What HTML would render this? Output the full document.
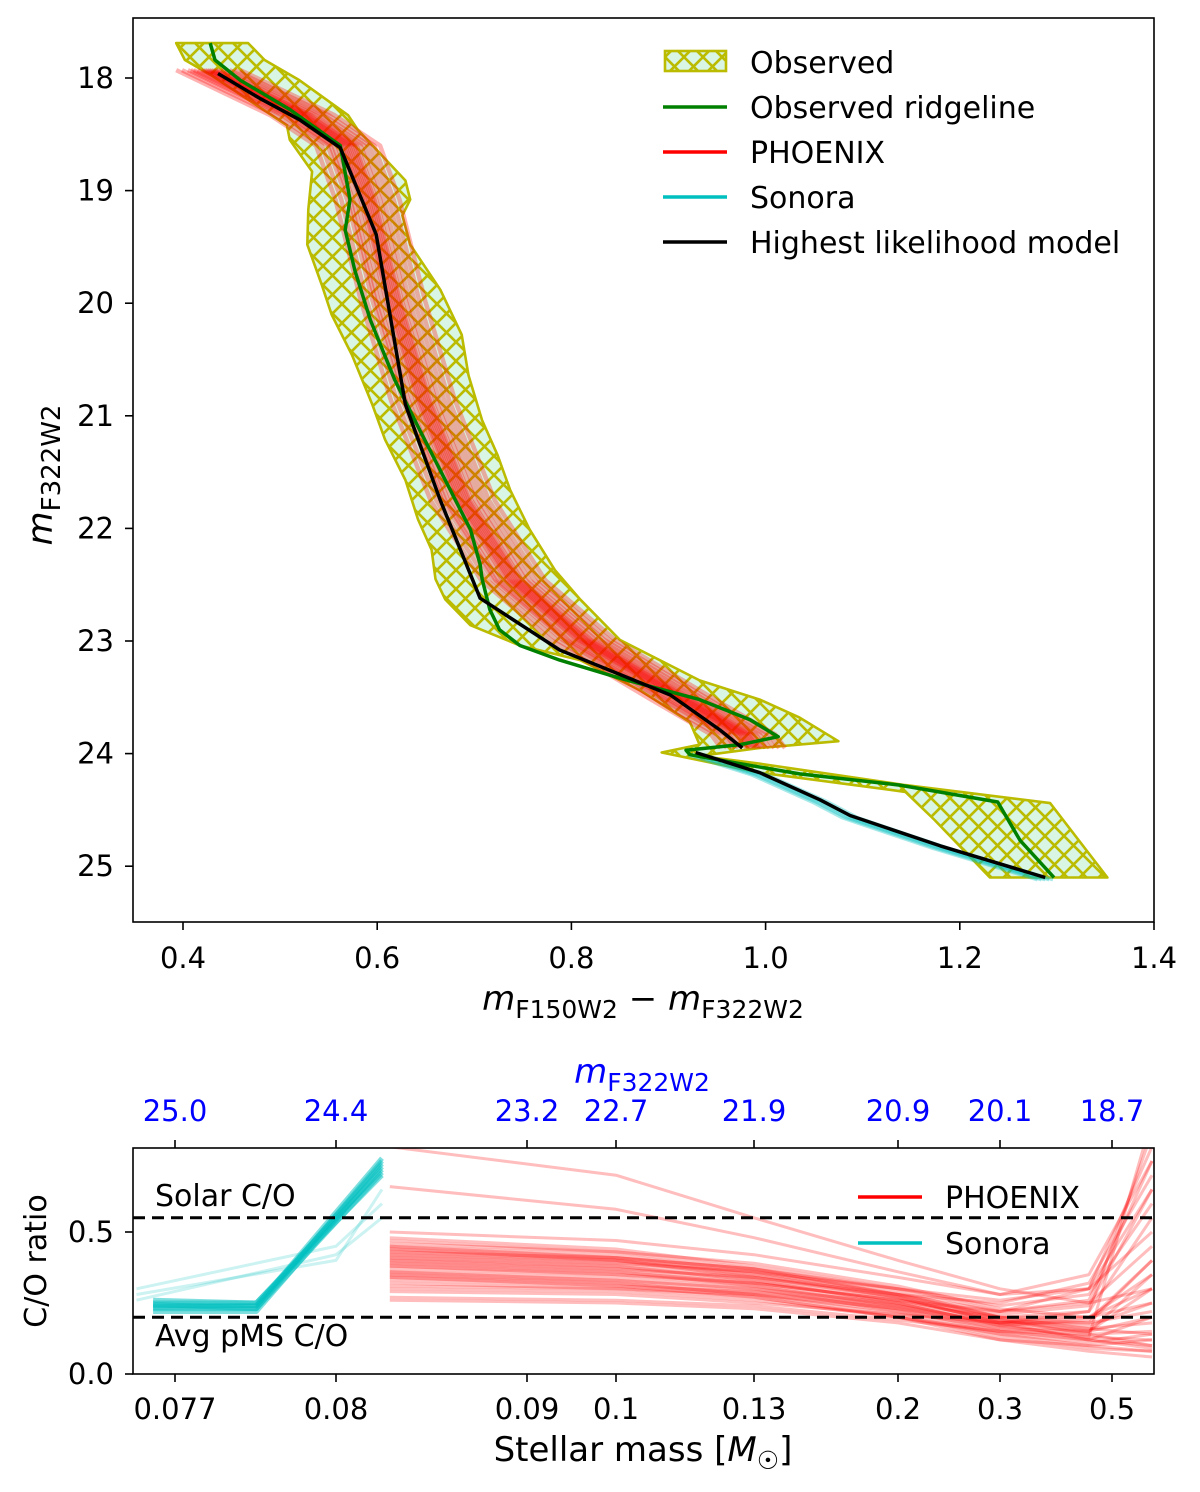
<!DOCTYPE html>
<html><head><meta charset="utf-8"><style>
html,body{margin:0;padding:0;background:#fff;}
svg{display:block;font-family:"DejaVu Sans","Liberation Sans",sans-serif;}
</style></head><body>
<svg id="fig" width="1200" height="1492" viewBox="0 0 1200 1492" xmlns="http://www.w3.org/2000/svg">
<defs>
<pattern id="hatch" patternUnits="userSpaceOnUse" width="19" height="19">
<rect width="19" height="19" fill="#d9f5e3"/>
<path d="M0,0 L19,19 M19,0 L0,19 M-2,17 L2,21 M17,-2 L21,2 M17,21 L21,17 M-2,2 L2,-2" stroke="#bbbb00" stroke-width="2.6"/>
</pattern>
<clipPath id="clipTop"><rect x="133" y="18" width="1021" height="904"/></clipPath>
<clipPath id="clipBot"><rect x="133" y="1148" width="1021" height="226"/></clipPath>
</defs>
<g id="topPanel"></g>
<g id="botPanel"></g>
</svg>
<script>
// ---------- top panel data ----------
const xTicksTop = [0.4,0.6,0.8,1.0,1.2,1.4];
const yTicksTop = [18,19,20,21,22,23,24,25];
const bandColor = [0.393,0.402,0.428,0.507,0.510,0.533,0.529,0.528,0.543,0.553,0.574,0.595,0.608,0.629,0.642,0.656,0.660,0.670,0.696,0.747,0.809,0.871,0.922,0.932,0.893,0.994,1.144,1.174,1.231,1.352,1.293,1.144,0.994,0.932,0.994,1.075,1.035,0.994,0.932,0.850,0.809,0.783,0.757,0.737,0.724,0.708,0.694,0.687,0.665,0.634,0.626,0.634,0.629,0.580,0.570,0.520,0.484,0.467];
const bandMag = [17.69,17.84,17.97,18.42,18.55,18.83,19.17,19.48,19.84,20.10,20.46,20.90,21.21,21.57,21.92,22.19,22.45,22.63,22.86,23.04,23.17,23.44,23.72,23.92,23.99,24.17,24.34,24.59,25.10,25.10,24.44,24.28,24.09,24.02,23.95,23.89,23.68,23.52,23.35,22.99,22.63,22.37,22.01,21.66,21.35,21.04,20.64,20.28,19.88,19.48,19.22,19.08,18.91,18.46,18.33,18.02,17.84,17.69];
const ridgeColor = [0.428,0.433,0.459,0.510,0.562,0.572,0.567,0.577,0.593,0.618,0.644,0.670,0.696,0.706,0.708,0.716,0.726,0.747,0.788,0.850,0.932,0.984,1.013,0.974,0.918,0.922,0.974,1.035,1.138,1.239,1.262,1.297];
const ridgeMag = [17.69,17.84,18.02,18.28,18.60,19.08,19.35,19.71,20.15,20.68,21.13,21.57,22.01,22.32,22.45,22.72,22.90,23.04,23.17,23.33,23.52,23.70,23.85,23.92,23.97,24.01,24.09,24.18,24.28,24.43,24.77,25.10];
const bestAColor = [0.436,0.479,0.520,0.562,0.599,0.629,0.665,0.706,0.788,0.902,0.953,0.976];
const bestAMag = [17.96,18.18,18.37,18.62,19.39,20.90,21.75,22.62,23.08,23.48,23.79,23.95];
const bestBColor = [0.928,0.994,1.056,1.087,1.180,1.288];
const bestBMag = [23.99,24.17,24.41,24.55,24.82,25.10];
const phxColor = [0.423,0.520,0.567,0.587,0.613,0.644,0.685,0.737,0.809,0.912,0.974,0.984];
const phxMag = [17.93,18.33,18.60,19.08,19.97,20.86,21.75,22.46,22.99,23.52,23.83,23.95];
const phxOffsets = [-0.03,-0.024,-0.018,-0.012,-0.008,-0.004,0,0.004,0.008,0.012,0.016,0.02,0.025,0.03,0.036,-0.015,0.006,0.01,-0.002,0.002];
const sonOffsets = [-0.008,-0.004,0,0.004,0.008];

// ---------- bottom panel data ----------
const massTicks = [0.077,0.08,0.09,0.1,0.13,0.2,0.3,0.5];
const massTickLabels = ["0.077","0.08","0.09","0.1","0.13","0.2","0.3","0.5"];
const magTickLabels = ["25.0","24.4","23.2","22.7","21.9","20.9","20.1","18.7"];
const coTicks = [0.0,0.5];
const solarCO = 0.55;
const pmsCO = 0.2;
const phxMassKnots = [0.0827,0.1,0.13,0.2,0.3,0.45,0.6];
const phxCO = [
[0.48,0.44,0.38,0.30,0.22,0.30,0.80],[0.45,0.42,0.36,0.28,0.20,0.22,0.55],
[0.42,0.40,0.35,0.27,0.18,0.18,0.40],[0.40,0.38,0.33,0.25,0.17,0.15,0.30],
[0.38,0.36,0.31,0.23,0.15,0.12,0.20],[0.36,0.34,0.30,0.22,0.14,0.10,0.12],
[0.34,0.32,0.28,0.21,0.13,0.09,0.08],[0.32,0.30,0.27,0.20,0.12,0.08,0.06],
[0.30,0.29,0.26,0.20,0.15,0.12,0.10],[0.27,0.26,0.24,0.19,0.15,0.14,0.15],
[0.50,0.47,0.42,0.34,0.28,0.35,0.75],[0.44,0.41,0.37,0.30,0.24,0.28,0.60],
[0.41,0.39,0.36,0.30,0.26,0.30,0.50],[0.39,0.37,0.34,0.28,0.25,0.32,0.70],
[0.37,0.35,0.32,0.26,0.22,0.25,0.45],[0.35,0.33,0.30,0.25,0.20,0.20,0.35],
[0.33,0.31,0.29,0.24,0.19,0.17,0.25],[0.31,0.30,0.28,0.23,0.18,0.16,0.18],
[0.43,0.41,0.37,0.29,0.20,0.16,0.14],[0.46,0.43,0.39,0.31,0.23,0.20,0.25],
[0.29,0.28,0.25,0.21,0.18,0.20,0.30],[0.26,0.25,0.23,0.18,0.12,0.10,0.08],
[0.66,0.58,0.48,0.36,0.28,0.30,0.65],[0.80,0.70,0.55,0.40,0.30,0.25,0.30],
[0.40,0.37,0.32,0.24,0.16,0.13,0.90],[0.38,0.35,0.31,0.24,0.18,0.22,0.85],
[0.44,0.40,0.34,0.26,0.19,0.14,0.10],[0.36,0.33,0.29,0.23,0.17,0.19,0.40],
[0.42,0.39,0.34,0.27,0.21,0.24,0.65],[0.34,0.31,0.27,0.20,0.14,0.11,0.14],
[0.47,0.43,0.37,0.28,0.19,0.15,0.20],[0.41,0.38,0.33,0.25,0.17,0.13,0.12],
[0.39,0.36,0.32,0.26,0.20,0.18,0.22],[0.45,0.41,0.35,0.27,0.18,0.12,0.09],
[0.35,0.32,0.28,0.22,0.16,0.15,0.35],[0.43,0.40,0.36,0.28,0.22,0.26,0.75]
];
const sonMassKnots = [0.0766,0.0785,0.0823];
const sonCO = [[0.23,0.23,0.75],[0.24,0.24,0.74],[0.25,0.25,0.72],[0.22,0.22,0.73],[0.26,0.25,0.70],[0.235,0.24,0.76],[0.245,0.23,0.71]];
const sonFaintKnots = [0.0763,0.0800,0.0823];
const sonFaintCO = [[0.26,0.42,0.55],[0.30,0.45,0.60],[0.28,0.40,0.65]];

const NS="http://www.w3.org/2000/svg";
function mk(tag, attrs, parent){const e=document.createElementNS(NS,tag);for(const k in attrs)e.setAttribute(k,attrs[k]);parent.appendChild(e);return e;}
const xT = c => 183 + (c-0.4)*971;
const yT = m => 78 + (m-18)*112.6;
const massPx = [175,336,527,616,754,898,1000,1112];
function xM(m){
  const L=massTicks.map(Math.log), v=Math.log(m);
  let i=0; if(v<L[0]) i=0; else if(v>=L[L.length-1]) i=L.length-2; else {while(i<L.length-2 && v>L[i+1]) i++;}
  return massPx[i]+(v-L[i])/(L[i+1]-L[i])*(massPx[i+1]-massPx[i]);
}
const yB = v => 1374 - v*284;
function pts(xs,ys,fx,fy){return xs.map((x,i)=>fx(x).toFixed(1)+','+fy(ys[i]).toFixed(1)).join(' ');}

const topG=document.getElementById('topPanel');
const gT=mk('g',{'clip-path':'url(#clipTop)'},topG);
const band=mk('polygon',{points:pts(bandColor,bandMag,xT,yT),fill:'url(#hatch)',stroke:'#bbbb00','stroke-width':2.6,'stroke-linejoin':'round'},gT);


phxOffsets.forEach(o=>{
  const l=mk('polyline',{points:pts(phxColor.map(c=>c+o),phxMag,xT,yT),fill:'none',stroke:'#ff0000','stroke-opacity':0.3,'stroke-width':4.5,'stroke-linejoin':'round'},gT);
  
  
});
sonOffsets.forEach(o=>{
  const l=mk('polyline',{points:pts(bestBColor.map(c=>c+o),bestBMag.map(m=>m+0.02),xT,yT),fill:'none',stroke:'#00bfbf','stroke-opacity':0.35,'stroke-width':3.5},gT);
  
  
});
const ridge=mk('polyline',{points:pts(ridgeColor,ridgeMag,xT,yT),fill:'none',stroke:'#008000','stroke-width':3.5,'stroke-linejoin':'round'},gT);


const bA=mk('polyline',{points:pts(bestAColor,bestAMag,xT,yT),fill:'none',stroke:'#000','stroke-width':3.5,'stroke-linejoin':'round'},gT);


const bB=mk('polyline',{points:pts(bestBColor,bestBMag,xT,yT),fill:'none',stroke:'#000','stroke-width':3.5,'stroke-linejoin':'round'},gT);


const fr=mk('rect',{x:133,y:18,width:1021,height:904,fill:'none',stroke:'#000','stroke-width':1.6},topG);


xTicksTop.forEach(t=>{
  const x=xT(t);
  mk('line',{x1:x,y1:922,x2:x,y2:930,stroke:'#000','stroke-width':1.6},topG);
  const tx=mk('text',{x:x,y:968,'font-size':29,'text-anchor':'middle'},topG);tx.textContent=t.toFixed(1);
  
  
});
yTicksTop.forEach(t=>{
  const y=yT(t);
  mk('line',{x1:125,y1:y,x2:133,y2:y,stroke:'#000','stroke-width':1.6},topG);
  const tx=mk('text',{x:114,y:y+10,'font-size':29,'text-anchor':'end'},topG);tx.textContent=t;
  
  
});
const lg=mk('g',{},topG);


mk('rect',{x:665,y:51,width:61,height:20,fill:'url(#hatch)',stroke:'#bbbb00','stroke-width':2.6},lg);
const legItems=[['Observed',null],['Observed ridgeline','#008000'],['PHOENIX','#ff0000'],['Sonora','#00bfbf'],['Highest likelihood model','#000']];
legItems.forEach((it,i)=>{
  const y=62+i*45;
  if(it[1]) mk('line',{x1:663,y1:y,x2:727,y2:y,stroke:it[1],'stroke-width':3.5},lg);
  const tx=mk('text',{x:750,y:y+11,'font-size':30},lg);tx.textContent=it[0];
  
  
});
const xl=mk('text',{x:643,y:1010,'font-size':34,'text-anchor':'middle'},topG);
xl.innerHTML='<tspan font-style="italic">m</tspan><tspan font-size="25" dy="8">F150W2</tspan><tspan dy="-8"> − </tspan><tspan font-style="italic">m</tspan><tspan font-size="25" dy="8">F322W2</tspan>';


const yl=mk('text',{x:0,y:0,'font-size':35,'text-anchor':'middle',transform:'translate(52,475) rotate(-90)'},topG);
yl.innerHTML='<tspan font-style="italic">m</tspan><tspan font-size="26" dy="8">F322W2</tspan>';



const botG=document.getElementById('botPanel');
const gB=mk('g',{'clip-path':'url(#clipBot)'},botG);
sonFaintCO.forEach(r=>{
  const l=mk('polyline',{points:pts(sonFaintKnots,r,xM,yB),fill:'none',stroke:'#00bfbf','stroke-opacity':0.2,'stroke-width':3},gB);
  
  
});
sonCO.forEach(r=>{
  const l=mk('polyline',{points:pts(sonMassKnots,r,xM,yB),fill:'none',stroke:'#00bfbf','stroke-opacity':0.5,'stroke-width':5,'stroke-linejoin':'round'},gB);
  
  
});
phxCO.forEach(r=>{
  const l=mk('polyline',{points:pts(phxMassKnots,r,xM,yB),fill:'none',stroke:'#ff0000','stroke-opacity':0.26,'stroke-width':3,'stroke-linejoin':'round'},gB);
  
  
});
[solarCO,pmsCO].forEach((v,i)=>{
  const l=mk('line',{x1:133,x2:1154,y1:yB(v),y2:yB(v),stroke:'#000','stroke-width':3,'stroke-dasharray':'12,7'},botG);
  
  
});
const fb=mk('rect',{x:133,y:1148,width:1021,height:226,fill:'none',stroke:'#000','stroke-width':1.6},botG);


massTicks.forEach((m,i)=>{
  const x=xM(m);
  mk('line',{x1:x,y1:1374,x2:x,y2:1382,stroke:'#000','stroke-width':1.6},botG);
  mk('line',{x1:x,y1:1140,x2:x,y2:1148,stroke:'#000','stroke-width':1.6},botG);
  const t=mk('text',{x:x,y:1419,'font-size':29,'text-anchor':'middle'},botG);t.textContent=massTickLabels[i];
  
  
  const t2=mk('text',{x:x,y:1121,'font-size':29,'text-anchor':'middle',fill:'#0000ff'},botG);t2.textContent=magTickLabels[i];
  
  
});
coTicks.forEach(v=>{
  const y=yB(v);
  mk('line',{x1:125,y1:y,x2:133,y2:y,stroke:'#000','stroke-width':1.6},botG);
  const t=mk('text',{x:114,y:y+10,'font-size':29,'text-anchor':'end'},botG);t.textContent=v.toFixed(1);
  
  
});
const st=mk('text',{x:155,y:1206,'font-size':30},botG);st.textContent='Solar C/O';


const pt=mk('text',{x:155,y:1346,'font-size':30},botG);pt.textContent='Avg pMS C/O';


const lb=mk('g',{},botG);


[['PHOENIX','#ff0000',1197],['Sonora','#00bfbf',1243]].forEach(it=>{
  mk('line',{x1:858,x2:922,y1:it[2],y2:it[2],stroke:it[1],'stroke-width':3.5},lb);
  const t=mk('text',{x:945,y:it[2]+11,'font-size':30},lb);t.textContent=it[0];
  
  
});
const xb=mk('text',{x:643,y:1461,'font-size':34,'text-anchor':'middle'},botG);
xb.innerHTML='Stellar mass [<tspan font-style="italic">M</tspan><tspan font-size="25" dy="8">☉</tspan><tspan dy="-8">]</tspan>';


const tb=mk('text',{x:642,y:1083,'font-size':34,'text-anchor':'middle',fill:'#0000ff'},botG);
tb.innerHTML='<tspan font-style="italic">m</tspan><tspan font-size="25" dy="8">F322W2</tspan>';


const yb=mk('text',{x:0,y:0,'font-size':30,'text-anchor':'middle',transform:'translate(46,1261) rotate(-90)'},botG);
yb.textContent='C/O ratio';


</script>
</body></html>
